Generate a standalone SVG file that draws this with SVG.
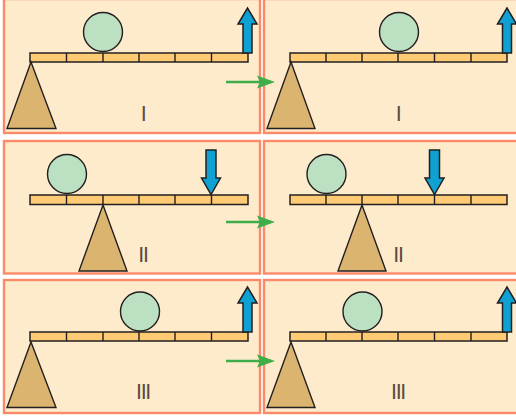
<svg xmlns="http://www.w3.org/2000/svg" width="516" height="418" viewBox="0 0 516 418">
<style>
.panel{fill:#feebcc;stroke:#fb8a68;stroke-width:2.4}
.beam{fill:#fecb74;stroke:#231f20;stroke-width:1.5}
.tick{stroke:#231f20;stroke-width:1.4;fill:none}
.ball{fill:#bce1c2;stroke:#231f20;stroke-width:1.4}
.tri{fill:#dbb56f;stroke:#231f20;stroke-width:1.4;stroke-linejoin:miter}
.force{fill:#0ea1d2;stroke:#231f20;stroke-width:1.5;stroke-linejoin:miter}
.conn{stroke:#3fae49;stroke-width:2.6;fill:none}
.head{fill:#3fae49}
.num{font-family:"Liberation Sans",Arial,sans-serif;font-size:21.500px;fill:#5a4c42;text-anchor:middle;letter-spacing:-1.300px}
</style>
<rect width="516" height="418" fill="#fff"/>
<g id="panel-1-left"><rect class="panel" x="4" y="-1" width="256" height="134"/>
<rect class="beam" x="30" y="53" width="218" height="9"/><path class="tick" d="M66.500 53v9M103 53v9M139 53v9M175 53v9M211.500 53v9"/>
<circle class="ball" cx="103" cy="32" r="19.500"/><path class="tri" d="M31 62L7 128.500H56Z"/>
<path class="force" d="M243 53V24H238L247.500 8L257 24H252V53Z"/><text class="num" x="143" y="121">I</text></g>
<g id="panel-1-right"><rect class="panel" x="264" y="-1" width="254" height="134"/>
<rect class="beam" x="290" y="53" width="217" height="9"/><path class="tick" d="M326 53v9M362 53v9M398 53v9M434.500 53v9M471 53v9"/>
<circle class="ball" cx="399" cy="32" r="19.500"/><path class="tri" d="M291 62L267 128.500H315Z"/>
<path class="force" d="M502.500 53V24H497.500L507 8L516.500 24H511.500V53Z"/><text class="num" x="398" y="121">I</text></g>
<g id="panel-2-left"><rect class="panel" x="4" y="141" width="256" height="132.500"/>
<rect class="beam" x="30" y="195" width="218" height="9.500"/><path class="tick" d="M66.500 195v9.500M103 195v9.500M139 195v9.500M175 195v9.500M211.500 195v9.500"/>
<circle class="ball" cx="67" cy="174" r="19.500"/><path class="tri" d="M103 205L79 271H127Z"/>
<path class="force" d="M206 150H216V178H220.500L211 194.500L201.500 178H206Z"/><text class="num" x="143" y="262">II</text></g>
<g id="panel-2-right"><rect class="panel" x="264" y="141" width="254" height="132.500"/>
<rect class="beam" x="290" y="195" width="217" height="9.500"/><path class="tick" d="M326 195v9.500M362 195v9.500M398 195v9.500M434.500 195v9.500M471 195v9.500"/>
<circle class="ball" cx="326.500" cy="174" r="19.500"/><path class="tri" d="M362 205L338 271H386Z"/>
<path class="force" d="M429.500 150H439.500V178H444L434.500 194.500L425 178H429.500Z"/><text class="num" x="398" y="262">II</text></g>
<g id="panel-3-left"><rect class="panel" x="4" y="280" width="256" height="133"/>
<rect class="beam" x="30" y="332" width="218" height="9"/><path class="tick" d="M66.500 332v9M103 332v9M139 332v9M175 332v9M211.500 332v9"/>
<circle class="ball" cx="140" cy="311.500" r="19.500"/><path class="tri" d="M31 342L7 407.500H56Z"/>
<path class="force" d="M243 332V303H238L247.500 287L257 303H252V332Z"/><text class="num" x="143" y="399">III</text></g>
<g id="panel-3-right"><rect class="panel" x="264" y="280" width="254" height="133"/>
<rect class="beam" x="290" y="332" width="217" height="9"/><path class="tick" d="M326 332v9M362 332v9M398 332v9M434.500 332v9M471 332v9"/>
<circle class="ball" cx="362.500" cy="311.500" r="19.500"/><path class="tri" d="M291 342L267 407.500H315Z"/>
<path class="force" d="M502.500 332V303H497.500L507 287L516.500 303H511.500V332Z"/><text class="num" x="398" y="399">III</text></g>
<g id="connectors">
<path class="conn" d="M226 82H262"/><path class="head" d="M257 75.500L275 82L257 88.500L260 82Z"/>
<path class="conn" d="M226 222H262"/><path class="head" d="M257 215.500L275 222L257 228.500L260 222Z"/>
<path class="conn" d="M226 361H262"/><path class="head" d="M257 354.500L275 361L257 367.500L260 361Z"/>
</g>
</svg>
